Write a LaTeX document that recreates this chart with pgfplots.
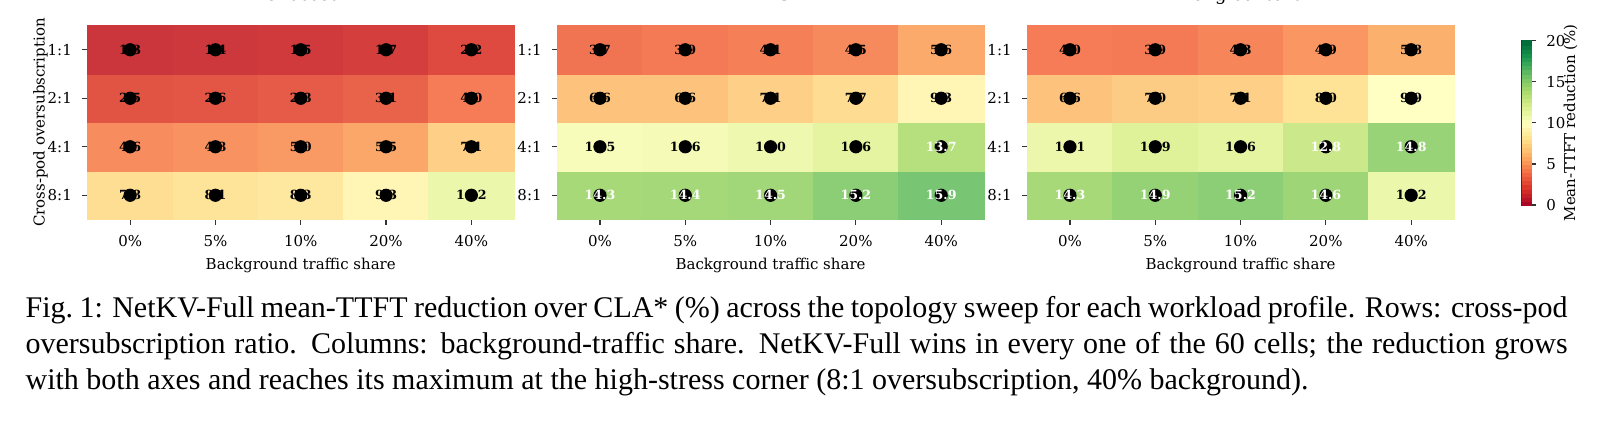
\documentclass[border=0pt]{standalone}
\usepackage{fontspec}
\setmainfont{DejaVu Serif}
\newfontfamily\capfont{Liberation Serif}
\usepackage{pgfplots}
\pgfplotsset{compat=1.18}
\usepackage{pgfplotstable}

% x = background share index, y = oversubscription row (0 = 8:1 ... 3 = 1:1)
\pgfplotstableread{
x y v
0 0 7.8
1 0 8.1
2 0 8.3
3 0 9.3
4 0 11.2
0 1 4.6
1 1 4.8
2 1 5.0
3 1 5.5
4 1 7.1
0 2 2.5
1 2 2.6
2 2 2.8
3 2 3.1
4 2 4.0
0 3 1.3
1 3 1.4
2 3 1.5
3 3 1.7
4 3 2.2
}\chat

\pgfplotstableread{
x y v
0 0 14.3
1 0 14.4
2 0 14.5
3 0 15.2
4 0 15.9
0 1 10.5
1 1 10.6
2 1 11.0
3 1 11.6
4 1 13.7
0 2 6.6
1 2 6.6
2 2 7.1
3 2 7.7
4 2 9.3
0 3 3.7
1 3 3.9
2 3 4.1
3 3 4.5
4 3 5.6
}\rag

\pgfplotstableread{
x y v
0 0 14.3
1 0 14.9
2 0 15.2
3 0 14.6
4 0 11.2
0 1 11.1
1 1 11.9
2 1 11.6
3 1 12.8
4 1 14.8
0 2 6.6
1 2 7.0
2 2 7.1
3 2 8.0
4 2 9.9
0 3 4.0
1 3 3.9
2 3 4.3
3 3 4.9
4 3 5.8
}\longctx

% colour scale: 40 stripes from 0 to 20
\pgfplotstableread{
x y v
0.5 0.25 0.25
0.5 0.75 0.75
0.5 1.25 1.25
0.5 1.75 1.75
0.5 2.25 2.25
0.5 2.75 2.75
0.5 3.25 3.25
0.5 3.75 3.75
0.5 4.25 4.25
0.5 4.75 4.75
0.5 5.25 5.25
0.5 5.75 5.75
0.5 6.25 6.25
0.5 6.75 6.75
0.5 7.25 7.25
0.5 7.75 7.75
0.5 8.25 8.25
0.5 8.75 8.75
0.5 9.25 9.25
0.5 9.75 9.75
0.5 10.25 10.25
0.5 10.75 10.75
0.5 11.25 11.25
0.5 11.75 11.75
0.5 12.25 12.25
0.5 12.75 12.75
0.5 13.25 13.25
0.5 13.75 13.75
0.5 14.25 14.25
0.5 14.75 14.75
0.5 15.25 15.25
0.5 15.75 15.75
0.5 16.25 16.25
0.5 16.75 16.75
0.5 17.25 17.25
0.5 17.75 17.75
0.5 18.25 18.25
0.5 18.75 18.75
0.5 19.25 19.25
0.5 19.75 19.75
}\cbar

% one heatmap cell: 142.17pt / 5 by 64.67pt / 4
\pgfdeclareplotmark{cell}{%
  \pgfpathrectangle{\pgfqpoint{-14.22pt}{-8.09pt}}{\pgfqpoint{28.44pt}{16.18pt}}%
  \pgfusepathqfillstroke}
% one colour-scale stripe: 3pt by 54.77pt / 40
\pgfdeclareplotmark{stripe}{%
  \pgfpathrectangle{\pgfqpoint{-1.5pt}{-0.72pt}}{\pgfqpoint{3pt}{1.44pt}}%
  \pgfusepathqfillstroke}

\pgfplotsset{
  /pgf/number format/assume math mode=true,
  colormap={rdylgnlight}{rgb255=(174,26,60) rgb255=(219,69,61) rgb255=(245,124,86)
    rgb255=(253,182,113) rgb255=(254,227,151) rgb255=(255,255,197) rgb255=(221,241,151)
    rgb255=(175,221,121) rgb255=(117,196,115) rgb255=(49,162,98) rgb255=(26,119,75)},
  colormap={rdylgn}{rgb255=(165,0,38) rgb255=(215,48,39) rgb255=(244,109,67)
    rgb255=(253,174,97) rgb255=(254,224,139) rgb255=(255,255,191) rgb255=(217,239,139)
    rgb255=(166,217,106) rgb255=(102,189,99) rgb255=(26,152,80) rgb255=(0,104,55)},
  heat/.style={
    scale only axis, width=142.17pt, height=64.67pt,
    xmin=-0.5, xmax=4.5, ymin=-0.5, ymax=3.5,
    xtick={0,...,4}, ytick={0,...,3},
    xticklabels={0\%,5\%,10\%,20\%,40\%},
    yticklabels={8:1,4:1,2:1,1:1},
    axis x line*=bottom, axis y line*=left,
    axis line style={black!80, line width=0.4pt},
    tick align=outside, major tick length=1.7pt,
    tick style={black!80, line width=0.4pt},
    grid=major, grid style={gray!60, line width=0.35pt, opacity=0.45},
    axis on top, clip=false,
    point meta min=0, point meta max=20,
    colormap name=rdylgnlight,
    ticklabel style={font=\fontsize{5}{6}\selectfont},
    label style={font=\fontsize{5}{6}\selectfont},
    xlabel={Background traffic share},
    xlabel style={at={(axis description cs:0.5,0)}, anchor=base, yshift=-16.5pt},
    title style={font=\fontsize{6}{7}\selectfont, at={(axis description cs:0.5,1)}, anchor=base, yshift=2.2pt},
  },
  cells/.style={scatter, only marks, mark=cell,
    point meta=\thisrow{v}, line width=0.2pt,
    scatter/use mapped color={draw=mapped color, fill=mapped color}},
  annot/.style={only marks, mark=*, mark options={draw=none, fill=none},
    point meta=\thisrow{v},
    nodes near coords={\pgfmathprintnumber[fixed,fixed zerofill,precision=1]{\pgfplotspointmeta}},
    every node near coord/.append style={anchor=center, inner sep=0pt, text=#1,
      font=\fontsize{4.2}{5}\selectfont\bfseries}},
  % labels on light cells are black, on the darker greens white
  darktext/.style={annot=black, y filter/.expression={\thisrow{v}>12 ? nan : y}},
  lighttext/.style={annot=white, y filter/.expression={\thisrow{v}>12 ? y : nan}},
}

\begin{document}
\begin{tikzpicture}
\useasboundingbox (0,0) rectangle (537.33pt,-140.33pt);

\begin{axis}[heat, at={(29.17pt,-73.17pt)}, anchor=south west, title={Chatbot},
  ylabel={Cross-pod oversubscription},
  ylabel style={at={(axis description cs:-0.11,0.5)}, anchor=center}]
\addplot[cells] table[x=x, y=y] {\chat};
\addplot[darktext] table[x=x, y=y] {\chat};
\end{axis}

\begin{axis}[heat, at={(185.77pt,-73.17pt)}, anchor=south west, title={RAG}]
\addplot[cells] table[x=x, y=y] {\rag};
\addplot[darktext] table[x=x, y=y] {\rag};
\addplot[lighttext] table[x=x, y=y] {\rag};
\end{axis}

\begin{axis}[heat, at={(342.43pt,-73.17pt)}, anchor=south west, title={Long-context}]
\addplot[cells] table[x=x, y=y] {\longctx};
\addplot[darktext] table[x=x, y=y] {\longctx};
\addplot[lighttext] table[x=x, y=y] {\longctx};
\end{axis}

% colour scale drawn as a narrow axis of its own
\begin{axis}[scale only axis, width=3pt, height=54.77pt,
  at={(507.23pt,-68.33pt)}, anchor=south west,
  xmin=0, xmax=1, ymin=0, ymax=20,
  xtick=\empty, ytick={0,5,10,15,20},
  ytick pos=right, yticklabel pos=right,
  tick align=outside, major tick length=1.7pt,
  tick style={black!80, line width=0.4pt},
  axis line style={black!80, line width=0.4pt},
  axis on top,
  colormap name=rdylgn, point meta min=0, point meta max=20,
  ticklabel style={font=\fontsize{5}{6}\selectfont},
  ylabel={Mean-TTFT reduction (\%)},
  ylabel style={font=\fontsize{5}{6}\selectfont, at={(axis description cs:5.43,0.5)}, anchor=center}]
\addplot[scatter, only marks, mark=stripe, point meta=\thisrow{v}, line width=0.1pt,
  scatter/use mapped color={draw=mapped color, fill=mapped color}] table[x=x, y=y] {\cbar};
\end{axis}

\node[anchor=north west, inner sep=0pt, text width=514pt, align=justify,
  font=\capfont\fontsize{10}{12}\selectfont] at (8.33pt,-97.27pt)
  {\strut Fig.~1: NetKV-Full mean-TTFT reduction over CLA* (\%) across the topology sweep for each workload profile. Rows: cross-pod oversubscription ratio. Columns: background-traffic share. NetKV-Full wins in every one of the 60 cells; the reduction grows with both axes and reaches its maximum at the high-stress corner (8:1 oversubscription, 40\% background).};
\end{tikzpicture}
\end{document}
